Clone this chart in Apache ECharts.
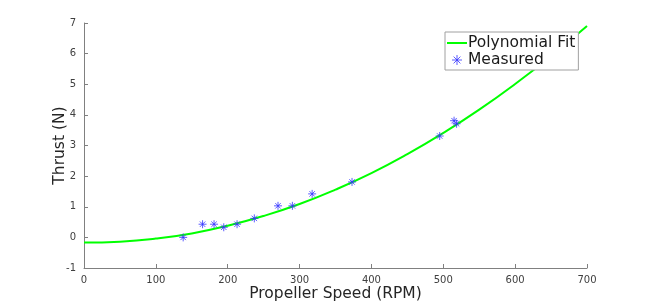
<!DOCTYPE html>
<html><head><meta charset="utf-8">
<script src="https://cdn.jsdelivr.net/npm/echarts@6/dist/echarts.min.js"></script>
<style>html,body{margin:0;padding:0;background:#fff}#c{width:648px;height:302px}</style>
</head><body><div id="c"></div>
<script>
const measuredRpm = [138, 165, 181, 194.5, 213, 237, 270, 290, 317.5, 373, 495, 515, 518.5];
const measuredThrust = [0.0, 0.43, 0.43, 0.33, 0.43, 0.62, 1.03, 1.03, 1.42, 1.81, 3.31, 3.81, 3.71];
const fitRpm = [0, 50, 100, 150, 200, 250, 300, 350, 400, 450, 500, 550, 600, 650, 700];
const fitThrust = [-0.17, -0.14, -0.04, 0.13, 0.38, 0.70, 1.09, 1.56, 2.10, 2.72, 3.41, 4.17, 5.01, 5.92, 6.90];
const seriesNames = ['Polynomial Fit', 'Measured'];
const xTitle = 'Propeller Speed (RPM)';
const yTitle = 'Thrust (N)';

const FONT = 'DejaVu Sans';
const star = 'path://M5,0L5,10M0,5L10,5M1.6,1.6L8.4,8.4M8.4,1.6L1.6,8.4';
const chart = echarts.init(document.getElementById('c'), null, {renderer: 'canvas'});
chart.setOption({
  animation: false,
  backgroundColor: '#fff',
  grid: {left: 84, right: 61, top: 23, bottom: 34, containLabel: false, outerBoundsMode: 'none'},
  legend: {
    orient: 'vertical', left: 445, top: 32,
    backgroundColor: '#fff', borderColor: '#a0a0a0', borderWidth: 1,
    padding: [3, 3, 2, 2], itemGap: 1, itemWidth: 20, itemHeight: 10,
    textStyle: {fontFamily: FONT, fontSize: 15.5, color: '#1a1a1a', padding: [0, 0, 0, -4]},
    data: [
      {name: seriesNames[0], icon: 'path://M0,4L20,4L20,6L0,6Z', itemStyle: {color: '#00ff00'}},
      {name: seriesNames[1], icon: star, itemStyle: {color: 'transparent', borderColor: '#3333ff', borderWidth: 0.8}}
    ]
  },
  xAxis: {
    type: 'value', min: 0, max: 700, interval: 100,
    name: xTitle, nameLocation: 'middle', nameGap: 18, nameMoveOverlap: false,
    nameTextStyle: {fontFamily: FONT, fontSize: 15.5, color: '#262626'},
    axisLine: {show: true, onZero: false, lineStyle: {color: '#808080', width: 1}},
    axisTick: {show: true, inside: true, length: 4, lineStyle: {color: '#808080'}},
    axisLabel: {fontFamily: FONT, fontSize: 10, color: '#404040', margin: 7},
    splitLine: {show: false}
  },
  yAxis: {
    type: 'value', min: -1, max: 7, interval: 1,
    name: yTitle, nameLocation: 'middle', nameGap: 16, nameMoveOverlap: false,
    nameTextStyle: {fontFamily: FONT, fontSize: 15.5, color: '#262626'},
    axisLine: {show: true, onZero: false, lineStyle: {color: '#808080', width: 1}},
    axisTick: {show: true, inside: true, length: 4, lineStyle: {color: '#808080'}},
    axisLabel: {fontFamily: FONT, fontSize: 10, color: '#404040', margin: 8},
    splitLine: {show: false}
  },
  series: [
    {
      name: seriesNames[0], type: 'line', smooth: true, showSymbol: false,
      data: fitRpm.map((x, i) => [x, fitThrust[i]]),
      lineStyle: {color: '#00ff00', width: 2}, itemStyle: {color: '#00ff00'}, z: 2
    },
    {
      name: seriesNames[1], type: 'scatter', symbol: star, symbolSize: 8,
      data: measuredRpm.map((x, i) => [x, measuredThrust[i]]),
      itemStyle: {color: 'transparent', borderColor: '#3333ff', borderWidth: 0.8, opacity: 1}, z: 3
    }
  ]
});
</script></body></html>
